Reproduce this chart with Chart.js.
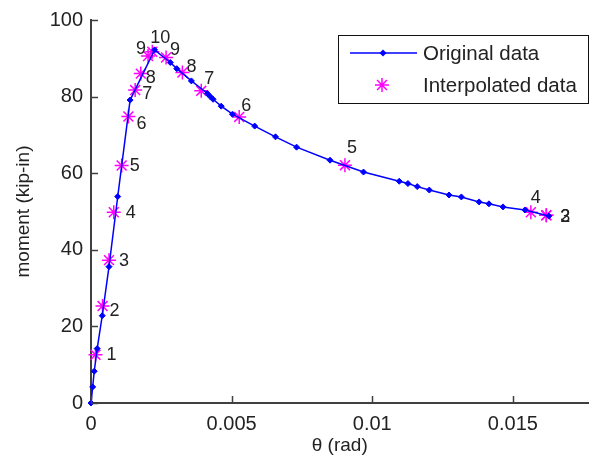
<!DOCTYPE html>
<html lang="en">
  <head>
    <meta charset="utf-8" />
    <title>Moment - rotation</title>
    <script src="https://cdn.jsdelivr.net/npm/chart.js"></script>
    <style>
      body {
        margin: 0;
        background: #fff;
        overflow: hidden;
      }
      .box {
        width: 597px;
        height: 468px;
      }
    </style>
  </head>
  <body>
    <div class="box"><canvas id="mc" width="597" height="468"></canvas></div>
    <script>
      // original curve (theta in rad, moment in kip-in)
      const origTheta = [
        0, 0.00006, 0.000115, 0.00022, 0.0004, 0.00064, 0.00095, 0.00139,
        0.00226, 0.00282, 0.00305, 0.00357, 0.00414, 0.00424, 0.00434,
        0.00463, 0.00503, 0.00582, 0.00656, 0.00731, 0.0085, 0.00969,
        0.01096, 0.01127, 0.0116, 0.01203, 0.01273, 0.01317, 0.0138, 0.01415,
        0.01465, 0.01543, 0.01628,
      ];
      const origMoment = [
        0, 4.2, 8.3, 14.2, 22.8, 35.6, 53.9, 79.1, 92.2, 88.9, 87.3, 84.1,
        80.8, 80.0, 79.3, 77.5, 75.4, 72.3, 69.5, 66.8, 63.4, 60.3, 57.9,
        57.3, 56.5, 55.6, 54.3, 53.8, 52.5, 52.0, 51.2, 50.4, 48.8,
      ];

      // interpolated points with their index labels
      const interpTheta = [
        0.00016, 0.00041, 0.00064, 0.00081, 0.00109, 0.00133, 0.00157,
        0.00177, 0.00203, 0.00218, 0.00267, 0.00325, 0.00392, 0.00527,
        0.00903, 0.01564, 0.01619, 0.01619,
      ];
      const interpMoment = [
        12.6, 25.3, 37.3, 49.8, 62.0, 74.8, 81.7, 86.0, 90.6, 91.7, 90.2,
        86.3, 81.5, 74.7, 62.1, 49.8, 49.0, 49.0,
      ];
      const interpLabels = [
        "1", "2", "3", "4", "5", "6", "7", "8", "9", "10",
        "9", "8", "7", "6", "5", "4", "3", "2",
      ];

      const xTicks = [0, 0.005, 0.01, 0.015];
      const yTicks = [0, 20, 40, 60, 80, 100];

      // where each number sits next to its star (px)
      const labelOffsets = [
        [16, 0], [12, 5], [15, 1], [17, 1], [13, 0], [13, 8], [12, 4],
        [10, 4], [-7, -7], [8, -14], [9, -8], [9, -5], [8, -12], [7, -11],
        [7, -17], [5, -14], [19, 2], [19, 2],
      ];

      const FONT = "'Liberation Sans', Arial, sans-serif";
      const INK = "#222";

      const toPts = (xs, ys) => xs.map((x, i) => ({ x: x, y: ys[i] }));

      // MATLAB style ticks pointing into the axes
      const innerTicks = {
        id: "innerTicks",
        afterDraw(chart) {
          const { ctx, scales } = chart;
          const xs = scales.x, ys = scales.y;
          ctx.save();
          ctx.strokeStyle = "#404040";
          ctx.lineWidth = 1.5;
          ctx.beginPath();
          xTicks.forEach((v) => {
            const px = Math.round(xs.getPixelForValue(v)) + 0.5;
            ctx.moveTo(px, ys.bottom);
            ctx.lineTo(px, ys.bottom - 7);
          });
          yTicks.forEach((v) => {
            const py = Math.round(ys.getPixelForValue(v)) + 0.5;
            ctx.moveTo(xs.left, py);
            ctx.lineTo(xs.left + 7, py);
          });
          ctx.stroke();
          ctx.restore();
        },
      };

      const pointNumbers = {
        id: "pointNumbers",
        afterDatasetsDraw(chart) {
          const meta = chart.getDatasetMeta(1);
          const ctx = chart.ctx;
          ctx.save();
          ctx.font = "18px " + FONT;
          ctx.fillStyle = INK;
          ctx.textAlign = "center";
          ctx.textBaseline = "middle";
          meta.data.forEach((p, i) => {
            const off = labelOffsets[i] || [12, 0];
            ctx.fillText(interpLabels[i], p.x + off[0], p.y + off[1]);
          });
          ctx.restore();
        },
      };

      const boxLegend = {
        id: "boxLegend",
        afterDraw(chart) {
          const ctx = chart.ctx;
          const ds = chart.data.datasets;
          const L = 338, T = 35, W = 250, H = 68;
          ctx.save();
          ctx.fillStyle = "#fff";
          ctx.fillRect(L, T, W, H);
          ctx.strokeStyle = "#111";
          ctx.lineWidth = 1;
          ctx.strokeRect(L + 0.5, T + 0.5, W, H);

          const rows = [T + 18, T + 50];
          // line + diamond
          ctx.strokeStyle = ds[0].borderColor;
          ctx.lineWidth = ds[0].borderWidth;
          ctx.beginPath();
          ctx.moveTo(L + 12, rows[0]);
          ctx.lineTo(L + 79, rows[0]);
          ctx.stroke();
          ctx.fillStyle = ds[0].pointBackgroundColor;
          ctx.beginPath();
          const r = ds[0].pointRadius + 0.5;
          ctx.moveTo(L + 45, rows[0] - r);
          ctx.lineTo(L + 45 + r, rows[0]);
          ctx.lineTo(L + 45, rows[0] + r);
          ctx.lineTo(L + 45 - r, rows[0]);
          ctx.closePath();
          ctx.fill();

          ctx.strokeStyle = ds[1].borderColor;
          ctx.lineWidth = ds[1].borderWidth;
          Chart.helpers.drawPoint(
            ctx,
            { pointStyle: "star", radius: ds[1].pointRadius, borderWidth: ds[1].borderWidth },
            L + 44,
            rows[1]
          );

          ctx.fillStyle = INK;
          ctx.font = "20.5px " + FONT;
          ctx.textAlign = "left";
          ctx.textBaseline = "middle";
          ctx.fillText(ds[0].label, L + 85, rows[0] + 1);
          ctx.fillText(ds[1].label, L + 85, rows[1] + 1);
          ctx.restore();
        },
      };

      new Chart(document.getElementById("mc"), {
        type: "scatter",
        data: {
          datasets: [
            {
              label: "Original data",
              data: toPts(origTheta, origMoment),
              showLine: true,
              borderColor: "#0000ff",
              borderWidth: 1.5,
              pointStyle: "rectRot",
              pointRadius: 3,
              pointBackgroundColor: "#0000ff",
              pointBorderColor: "#0000ff",
              pointBorderWidth: 1,
              tension: 0,
              clip: false,
            },
            {
              label: "Interpolated data",
              data: toPts(interpTheta, interpMoment),
              showLine: false,
              borderColor: "#ff00ff",
              backgroundColor: "#ff00ff",
              borderWidth: 1.5,
              pointStyle: "star",
              pointRadius: 7,
              pointBorderColor: "#ff00ff",
              pointBorderWidth: 1.5,
              clip: false,
            },
          ],
        },
        options: {
          responsive: false,
          animation: false,
          devicePixelRatio: 1,
          layout: { padding: { top: 20, right: 0, bottom: 0, left: 0 } },
          plugins: {
            legend: { display: false },
            tooltip: { enabled: false },
          },
          scales: {
            x: {
              type: "linear",
              min: 0,
              max: 0.01769,
              afterBuildTicks: (s) => {
                s.ticks = xTicks.map((v) => ({ value: v }));
              },
              afterFit: (s) => {
                s.height = 65;
              },
              ticks: {
                padding: 9,
                color: INK,
                font: { family: FONT, size: 20 },
                callback: (v) => String(v),
                maxRotation: 0,
              },
              grid: { drawOnChartArea: false, drawTicks: false },
              border: { display: true, color: "#404040", width: 2 },
              title: {
                display: true,
                text: "θ (rad)",
                color: INK,
                font: { family: FONT, size: 19 },
                padding: { top: 0, bottom: 11 },
              },
            },
            y: {
              type: "linear",
              min: 0,
              max: 100,
              afterBuildTicks: (s) => {
                s.ticks = yTicks.map((v) => ({ value: v }));
              },
              afterFit: (s) => {
                s.width = 91;
              },
              ticks: {
                padding: 8,
                color: INK,
                font: { family: FONT, size: 20 },
              },
              grid: { drawOnChartArea: false, drawTicks: false },
              border: { display: true, color: "#404040", width: 2 },
              title: {
                display: true,
                text: "moment (kip-in)",
                color: INK,
                font: { family: FONT, size: 19 },
                padding: { top: 12, bottom: 0 },
              },
            },
          },
        },
        plugins: [innerTicks, pointNumbers, boxLegend],
      });
    </script>
  </body>
</html>
